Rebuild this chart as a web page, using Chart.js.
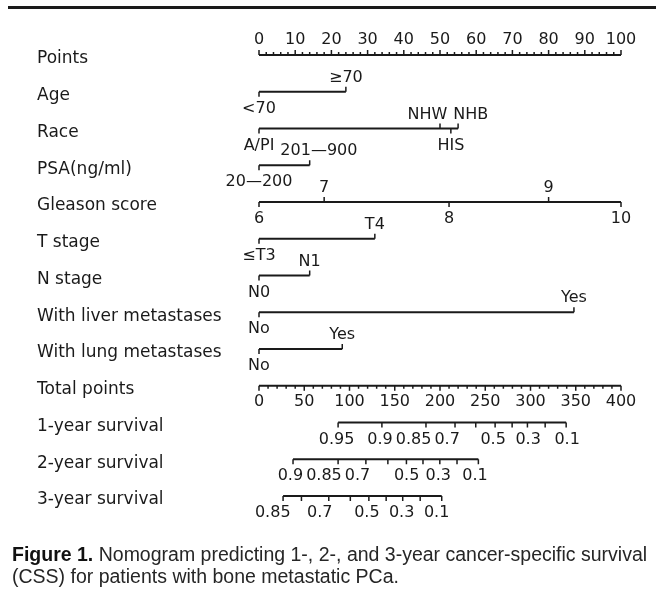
<!DOCTYPE html>
<html>
<head>
<meta charset="utf-8">
<script src="https://cdn.jsdelivr.net/npm/chart.js@4"></script>
<style>
  html, body { margin: 0; padding: 0; background: #fff; overflow: hidden; }
  #wrap { position: relative; width: 656px; height: 593px; }
  #topRule { position: absolute; left: 8px; top: 6px; width: 648px; height: 3px; background: #1a1a1a; }
  #caption {
    position: absolute; left: 12px; top: 543px; width: 760px;
    font-family: "Liberation Sans", Arial, sans-serif; font-size: 19.5px; line-height: 22px;
    color: #262626; white-space: nowrap;
  }
  #caption b { color: #111; }
</style>
</head>
<body>
<div id="wrap">
  <div id="topRule"></div>
  <canvas id="nomogram"></canvas>
  <div id="caption"><b>Figure 1.</b> Nomogram predicting 1-, 2-, and 3-year cancer-specific survival<br>(CSS) for patients with bone metastatic PCa.</div>
</div>
<script>
// row titles, top to bottom
const rowNames = ['Points', 'Age', 'Race', 'PSA(ng/ml)', 'Gleason score', 'T stage', 'N stage',
    'With liver metastases', 'With lung metastases', 'Total points',
    '1-year survival', '2-year survival', '3-year survival'];

// points scale
const pointTicks = [0, 10, 20, 30, 40, 50, 60, 70, 80, 90, 100];

// predictors: level names and their points
const ageLevels = ['<70', '≥70'];
const agePoints = [0, 24];
const raceLevels = ['A/PI', 'NHW', 'HIS', 'NHB'];
const racePoints = [0, 50, 53, 55];
const psaLevels = ['20—200', '201—900'];
const psaPoints = [0, 14];
const gleasonLevels = ['6', '7', '8', '9', '10'];
const gleasonPoints = [0, 18, 52.5, 80, 100];
const tLevels = ['≤T3', 'T4'];
const tPoints = [0, 32];
const nLevels = ['N0', 'N1'];
const nPoints = [0, 14];
const liverLevels = ['No', 'Yes'];
const liverPoints = [0, 87];
const lungLevels = ['No', 'Yes'];
const lungPoints = [0, 23];

// total points scale
const totalTicks = [0, 50, 100, 150, 200, 250, 300, 350, 400];

// survival scales: total points of each tick, printed labels and where they sit
const surv1Ticks = [0.95, 0.9, 0.8, 0.7, 0.6, 0.5, 0.4, 0.3, 0.2, 0.1];
const surv1Totals = [87.4, 135.8, 184.5, 216.6, 239.5, 260.9, 279.7, 296.6, 316.2, 339.4];
const surv1Labels = ['0.95', '0.9', '0.85', '0.7', '0.5', '0.3', '0.1'];
const surv1LabelTotals = [85.7, 135.8, 172.3, 204.4, 258.7, 297.4, 340.5];
const surv2Ticks = [0.9, 0.8, 0.7, 0.6, 0.5, 0.4, 0.3, 0.2, 0.1];
const surv2Totals = [37.6, 87.4, 118.1, 142.4, 162.9, 181.2, 199.8, 218.8, 242.4];
const surv2Labels = ['0.9', '0.85', '0.7', '0.5', '0.3', '0.1'];
const surv2LabelTotals = [34.8, 72.7, 107.8, 163.1, 198.1, 238.7];
const surv3Ticks = [0.85, 0.8, 0.7, 0.6, 0.5, 0.4, 0.3, 0.2, 0.1];
const surv3Totals = [26.6, 46.9, 77.1, 100.9, 121.4, 140.5, 158.8, 178.1, 201.9];
const surv3Labels = ['0.85', '0.7', '0.5', '0.3', '0.1'];
const surv3LabelTotals = [15.2, 67.2, 119.2, 157.6, 196.3];

const predictors = [
    {row: 1, levels: ageLevels, pts: agePoints},
    {row: 2, levels: raceLevels, pts: racePoints},
    {row: 3, levels: psaLevels, pts: psaPoints},
    {row: 4, levels: gleasonLevels, pts: gleasonPoints},
    {row: 5, levels: tLevels, pts: tPoints},
    {row: 6, levels: nLevels, pts: nPoints},
    {row: 7, levels: liverLevels, pts: liverPoints},
    {row: 8, levels: lungLevels, pts: lungPoints},
];
const survivals = [
    {row: 10, totals: surv1Totals, labels: surv1Labels, labelTotals: surv1LabelTotals},
    {row: 11, totals: surv2Totals, labels: surv2Labels, labelTotals: surv2LabelTotals},
    {row: 12, totals: surv3Totals, labels: surv3Labels, labelTotals: surv3LabelTotals},
];

const INK = '#1a1a1a';
const FONT = '16px "DejaVu Sans", sans-serif';
const ROW_FONT = '17px "DejaVu Sans", sans-serif';

function lineSet(row, from, to, axis) {
    return {
        data: [{x: from, y: row}, {x: to, y: row}],
        xAxisID: axis,
        showLine: true,
        borderColor: INK,
        borderWidth: 2,
        pointRadius: 0,
        clip: false
    };
}

const datasets = [lineSet(0, pointTicks[0], pointTicks[pointTicks.length - 1], 'x')];
predictors.forEach(p => datasets.push(lineSet(p.row, Math.min(...p.pts), Math.max(...p.pts), 'x')));
datasets.push(lineSet(9, totalTicks[0], totalTicks[totalTicks.length - 1], 'x2'));
survivals.forEach(s => datasets.push(lineSet(s.row, s.totals[0], s.totals[s.totals.length - 1], 'x2')));

// push apart colliding labels; a fixed label stays, its neighbour moves
function spread(ctx, items, gap) {
    items.sort((a, b) => a.x - b.x);
    items.forEach(it => it.w = ctx.measureText(it.text).width);
    for (let k = 0; k < 20; k++) {
        for (let i = 1; i < items.length; i++) {
            const a = items[i - 1], b = items[i];
            const need = a.w / 2 + b.w / 2 + gap - (b.x - a.x);
            if (need <= 0) continue;
            if (a.fixed && !b.fixed) b.x += need;
            else if (b.fixed && !a.fixed) a.x -= need;
            else { a.x -= need / 2; b.x += need / 2; }
        }
    }
    return items;
}

const nomogramPlugin = {
    id: 'nomogram',
    afterDatasetsDraw(chart) {
        const ctx = chart.ctx;
        const x = chart.scales.x, x2 = chart.scales.x2, y = chart.scales.y;
        ctx.save();
        ctx.strokeStyle = INK;
        ctx.fillStyle = INK;
        ctx.lineWidth = 1.5;
        ctx.textBaseline = 'middle';

        function tick(px, py, len) {
            ctx.beginPath();
            ctx.moveTo(px, py);
            ctx.lineTo(px, py + len);
            ctx.stroke();
        }

        // row titles
        ctx.font = ROW_FONT;
        ctx.textAlign = 'left';
        rowNames.forEach((name, i) => ctx.fillText(name, 37, y.getPixelForValue(i) + 4));
        ctx.font = FONT;
        ctx.textAlign = 'center';

        // points axis, ticks up
        const py0 = y.getPixelForValue(0);
        for (let v = 0; v <= 100; v += 2) {
            tick(x.getPixelForValue(v), py0, v % 10 === 0 ? -5 : -3);
        }
        pointTicks.forEach(v => ctx.fillText(String(v), x.getPixelForValue(v), py0 - 15));

        // predictors: levels alternate below / above the line
        const placed = predictors.map(p => {
            const py = y.getPixelForValue(p.row);
            const above = [], below = [];
            p.levels.forEach((lv, i) => {
                const px = x.getPixelForValue(p.pts[i]);
                const up = i % 2 === 1;
                tick(px, py, up ? -5 : 5);
                (up ? above : below).push({text: lv, x: px, fixed: p.pts[i] === 0, y: up ? py - 14 : py + 17});
            });
            return {above, below};
        });
        // labels under one line share a band with the labels over the next one
        placed.forEach((pl, i) => {
            const band = (i > 0 ? placed[i - 1].below : []).concat(pl.above);
            spread(ctx, band, 6);
        });
        spread(ctx, placed[placed.length - 1].below, 6);
        placed.forEach(pl => pl.above.concat(pl.below).forEach(it => ctx.fillText(it.text, it.x, it.y)));

        // total points axis, ticks down
        const py9 = y.getPixelForValue(9);
        for (let v = 0; v <= 400; v += 10) {
            tick(x2.getPixelForValue(v), py9, v % 50 === 0 ? 5 : 3);
        }
        totalTicks.forEach(v => ctx.fillText(String(v), x2.getPixelForValue(v), py9 + 16));

        // survival axes
        survivals.forEach(s => {
            const py = y.getPixelForValue(s.row);
            s.totals.forEach(t => tick(x2.getPixelForValue(t), py, 5));
            const items = s.labels.map((lb, i) => ({text: lb, x: x2.getPixelForValue(s.labelTotals[i])}));
            spread(ctx, items, 3).forEach(it => ctx.fillText(it.text, it.x, py + 17));
        });
        ctx.restore();
    }
};

const ctxN = document.getElementById('nomogram').getContext('2d');
const nomogram = new Chart(ctxN, {
    type: 'scatter',
    data: {datasets: datasets},
    options: {
        responsive: true,
        maintainAspectRatio: false,
        animation: false,
        layout: {padding: {left: 259, right: 35, top: 55, bottom: 97}},
        plugins: {legend: {display: false}, tooltip: {enabled: false}},
        scales: {
            x: {type: 'linear', min: 0, max: 100, display: false},
            x2: {type: 'linear', min: 0, max: 400, display: false},
            y: {type: 'linear', min: 0, max: 12, reverse: true, display: false}
        }
    },
    plugins: [nomogramPlugin]
});
</script>
</body>
</html>
